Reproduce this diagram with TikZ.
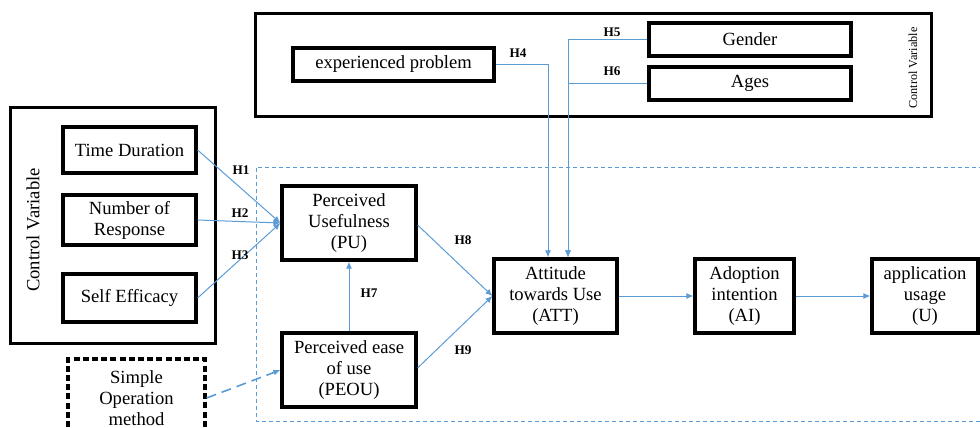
\documentclass[tikz,border=0pt]{standalone}
\usepackage{fontspec}
\setmainfont{Liberation Serif}
\usetikzlibrary{arrows.meta}
\definecolor{linkblue}{RGB}{91,155,213}
\begin{document}
\begin{tikzpicture}[x=0.5pt,y=-0.5pt]
        \tikzstyle{box}=[rectangle,draw=black,line width=1.6pt,align=center,inner sep=1pt,font=\fontsize{9.3}{10.5}\selectfont]
        \tikzstyle{frame}=[rectangle,draw=black,line width=1.5pt]
        \tikzstyle{link}=[draw=linkblue,line width=0.5pt,-{Latex[length=3.5pt,width=3pt]}]
        \tikzstyle{hyp}=[font=\fontsize{6.6}{7}\selectfont\bfseries,inner sep=0pt]
        \useasboundingbox (0,0) rectangle (980,428);
       % outer frames
         \node [frame,minimum width=102.5pt,minimum height=118pt] (ctrlleft) at (112.5,225) {};
         \node [frame,minimum width=338pt,minimum height=51.5pt] (ctrltop) at (593,64.5) {};
         \node [rotate=90,font=\fontsize{9.3}{10.5}\selectfont] (cvleft) at (33,230) {Control Variable};
         \node [rotate=90,font=\fontsize{6.1}{7}\selectfont] (cvtop) at (913,68) {Control Variable};
         \draw [draw=linkblue,line width=0.5pt,dash pattern=on 2pt off 1.5pt] (990,167) -- (256,167) -- (256,421) -- (990,421);
       % control variables
         \node [box,minimum width=66.5pt,minimum height=23pt] (time) at (129.5,150) {Time Duration};
         \node [box,minimum width=66.5pt,minimum height=25pt] (resp) at (129.5,220) {Number of\\Response};
         \node [box,minimum width=66.5pt,minimum height=24pt] (self) at (129.5,298) {Self Efficacy};
         \node [box,dashed,dash pattern=on 3pt off 1.6pt,minimum width=68.5pt,minimum height=39pt] (simple) at (136.5,398) {Simple\\Operation\\method};
         \node [box,minimum width=100.5pt,minimum height=16.5pt] (exp) at (393.5,64.5) {experienced problem};
         \node [box,minimum width=101pt,minimum height=16.5pt] (gender) at (750,39.5) {Gender};
         \node [box,minimum width=101pt,minimum height=16.5pt] (ages) at (750,83.5) {Ages};
       % model
         \node [box,minimum width=67pt,minimum height=37pt] (pu) at (349,223) {Perceived\\Usefulness\\(PU)};
         \node [box,minimum width=67pt,minimum height=37pt] (peou) at (349,370) {Perceived ease\\of use\\(PEOU)};
         \node [box,minimum width=61.5pt,minimum height=37pt] (att) at (555.5,296) {Attitude\\towards Use\\(ATT)};
         \node [box,minimum width=49.5pt,minimum height=37pt] (ai) at (744.5,296) {Adoption\\intention\\(AI)};
         \node [box,minimum width=53pt,minimum height=37pt] (use) at (925,296) {application\\usage\\(U)};
       % connectors
         \path[link] (time.east) -- (pu.west);
         \path[link] (resp.east) -- (pu.west);
         \path[link] (self.east) -- (pu.west);
         \path[link] (peou) -- (pu);
         \path[link] ([yshift=-1pt]pu.east) -- (att.west);
         \path[link] ([yshift=1pt]peou.east) -- (att.west);
         \path[link] (att) -- (ai);
         \path[link] (ai) -- (use);
         \path[link] (exp.east) -| ([xshift=-3.75pt]att.north);
         \path[link] (gender.west) -| ([xshift=6.25pt]att.north);
         \path[link] (ages.west) -| ([xshift=6.25pt]att.north);
         \path[link,dash pattern=on 5pt off 3pt,line width=0.8pt] (simple.east) -- (peou.west);
       % hypotheses
         \node [hyp] (h1) at (241,170) {H1};
         \node [hyp] (h2) at (240,213) {H2};
         \node [hyp] (h3) at (240,255) {H3};
         \node [hyp] (h4) at (518,53) {H4};
         \node [hyp] (h5) at (612,32) {H5};
         \node [hyp] (h6) at (612,71) {H6};
         \node [hyp] (h7) at (369,293) {H7};
         \node [hyp] (h8) at (463,240) {H8};
         \node [hyp] (h9) at (463,350) {H9};
      \end{tikzpicture}
\end{document}
